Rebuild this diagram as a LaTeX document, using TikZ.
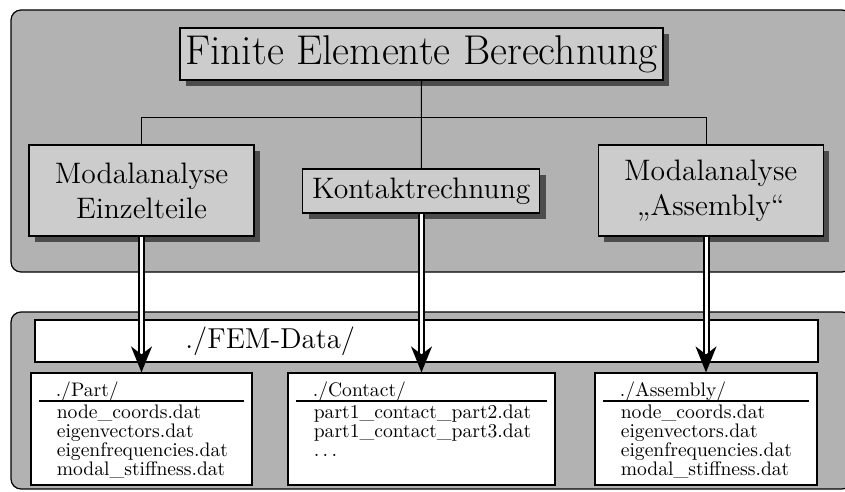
\documentclass[tikz,border=0pt]{standalone}
\usetikzlibrary{arrows.meta,shadows,calc}

\begin{document}
\begin{tikzpicture}[x=0.5pt,y=-0.5pt,
  panel/.style={draw=black, semithick, fill=black!30, rounded corners=5pt},
  task/.style={draw=black, semithick, fill=black!20, inner sep=0pt, align=center,
    drop shadow={shadow xshift=3pt, shadow yshift=-3pt, fill=black!70, opacity=1},
    font=\fontsize{14.8}{17.5}\selectfont},
  folder/.style={draw=black, semithick, fill=white, inner sep=0pt},
  files/.style={inner sep=0pt, align=left, font=\fontsize{9.8}{9.35}\selectfont},
  link/.style={line width=0.5pt},
  flow/.style={double=white, double distance=1.5pt, line width=1pt,
    -{Stealth[length=13pt,width=10.5pt,inset=4pt]}}]
\useasboundingbox (0,0) rectangle (845,492);

% grey panels
\draw[panel] (11,10) rectangle (852,272);
\draw[panel] (11,312) rectangle (852,489);

% calculation steps
\node[task, minimum width=241.5pt, minimum height=26pt, font=\fontsize{20.8}{25}\selectfont]
  (berechnung) at (421.5,54) {Finite Elemente Berechnung};
\node[task, minimum width=112.5pt, minimum height=45.5pt] (einzelteile) at (141.5,190.5)
  {Modalanalyse\\Einzelteile};
\node[task, minimum width=118.5pt, minimum height=22pt] (kontakt) at (421.3,191)
  {Kontaktrechnung};
\node[task, minimum width=112.5pt, minimum height=45.5pt] (assembly) at (710.7,190.5)
  {Modalanalyse\\„Assembly“};

% data folders
\node[folder, minimum width=391.5pt, minimum height=21pt] (femdata) at (426.5,341) {};
\node[anchor=west, inner sep=0pt, font=\fontsize{14.4}{17}\selectfont] (femlabel) at (185,341) {./FEM-Data/};

\node[folder, minimum width=110.5pt, minimum height=56pt] (partdir) at (141.5,429) {};
\node[folder, minimum width=133.5pt, minimum height=56pt] (contactdir) at (421.5,429) {};
\node[folder, minimum width=111pt, minimum height=56pt] (assemblydir) at (706,429) {};

\node[files, anchor=base west] (parthead) at ($(partdir.north west)+(25,24.5)$) {./Part/};
\draw[thick] ($(partdir.north west)+(8.5,28.5)$) -- ($(partdir.north east)+(-8.5,28.5)$);
\node[files, anchor=north west] (partlist) at ($(partdir.north west)+(26,32.5)$)
  {node\_coords.dat\\eigenvectors.dat\\eigenfrequencies.dat\\modal\_stiffness.dat};

\node[files, anchor=base west] (contacthead) at ($(contactdir.north west)+(25,24.5)$) {./Contact/};
\draw[thick] ($(contactdir.north west)+(8.5,28.5)$) -- ($(contactdir.north east)+(-8.5,28.5)$);
\node[files, anchor=north west] (contactlist) at ($(contactdir.north west)+(26,32.5)$)
  {part1\_contact\_part2.dat\\part1\_contact\_part3.dat\\$\ldots$};

\node[files, anchor=base west] (assemblyhead) at ($(assemblydir.north west)+(25,24.5)$) {./Assembly/};
\draw[thick] ($(assemblydir.north west)+(8.5,28.5)$) -- ($(assemblydir.north east)+(-8.5,28.5)$);
\node[files, anchor=north west] (assemblylist) at ($(assemblydir.north west)+(26,32.5)$)
  {node\_coords.dat\\eigenvectors.dat\\eigenfrequencies.dat\\modal\_stiffness.dat};

% tree below the title
\coordinate (split) at (421.5,117.7);
\draw[link] (berechnung.south) -- (kontakt.north);
\draw[link] (einzelteile.north) |- (split) -| (assembly.north -| assemblydir.north);

% results into the folders
\draw[flow] (partdir.north |- einzelteile.south) -- (partdir.north);
\draw[flow] (contactdir.north |- kontakt.south) -- (contactdir.north);
\draw[flow] (assemblydir.north |- assembly.south) -- (assemblydir.north);
\end{tikzpicture}
\end{document}
